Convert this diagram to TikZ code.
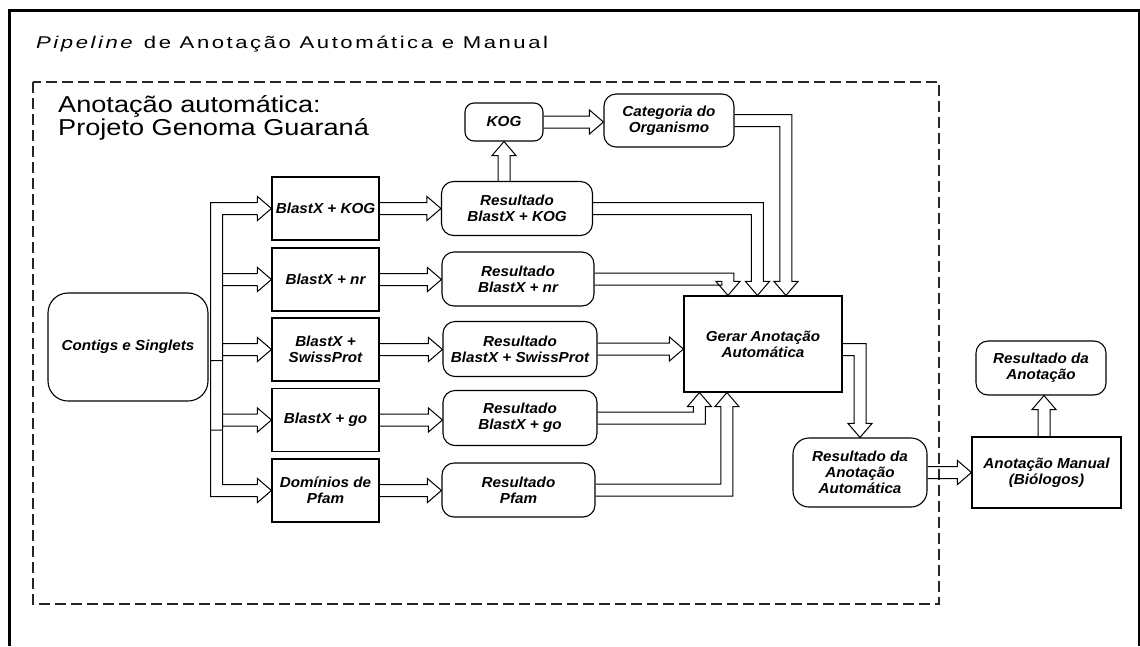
\documentclass[tikz,border=0pt]{standalone}
\usepackage{fontspec}
\setmainfont{Liberation Sans}
\newfontfamily\nodefont[FakeStretch=1.05]{Liberation Sans}
\newfontfamily\titlefont[FakeStretch=1.3,LetterSpace=15]{Liberation Sans}
\newfontfamily\subfont[FakeStretch=1.18]{Liberation Sans}
\usetikzlibrary{calc}

\def\sw{6pt}
\def\hw{12pt}
\def\hl{14pt}

% horizontal hollow arrow: from #1 to x of #2 (at y of #1)
\newcommand\HArrow[2]{%
  \draw[hollow] let \p1=(#1), \p2=(#2) in
   (\x1,{\y1+\sw}) -- ({\x2-\hl},{\y1+\sw}) -- ({\x2-\hl},{\y1+\hw}) -- (\x2,\y1)
   -- ({\x2-\hl},{\y1-\hw}) -- ({\x2-\hl},{\y1-\sw}) -- (\x1,{\y1-\sw});}
% vertical hollow arrow upwards: from #1 to y of #2 (at x of #1)
\newcommand\VArrowUp[2]{%
  \draw[hollow] let \p1=(#1), \p2=(#2) in
   ({\x1+\sw},\y1) -- ({\x1+\sw},{\y2-\hl}) -- ({\x1+\hw},{\y2-\hl}) -- (\x1,\y2)
   -- ({\x1-\hw},{\y2-\hl}) -- ({\x1-\sw},{\y2-\hl}) -- ({\x1-\sw},\y1);}
% right then down
\newcommand\BentRD[2]{%
  \draw[hollow] let \p1=(#1), \p2=(#2) in
   (\x1,{\y1+\sw}) -- ({\x2+\sw},{\y1+\sw}) -- ({\x2+\sw},{\y2+\hl}) -- ({\x2+\hw},{\y2+\hl})
   -- (\x2,\y2) -- ({\x2-\hw},{\y2+\hl}) -- ({\x2-\sw},{\y2+\hl}) -- ({\x2-\sw},{\y1-\sw}) -- (\x1,{\y1-\sw});}
% right then up
\newcommand\BentRU[2]{%
  \draw[hollow] let \p1=(#1), \p2=(#2) in
   (\x1,{\y1+\sw}) -- ({\x2-\sw},{\y1+\sw}) -- ({\x2-\sw},{\y2-\hl}) -- ({\x2-\hw},{\y2-\hl})
   -- (\x2,\y2) -- ({\x2+\hw},{\y2-\hl}) -- ({\x2+\sw},{\y2-\hl}) -- ({\x2+\sw},{\y1-\sw}) -- (\x1,{\y1-\sw});}

\tikzset{
  every node/.style={font=\nodefont\fontsize{14.5}{16}\selectfont\bfseries\itshape,
    align=center, inner sep=0pt},
  hollow/.style={draw=black, line width=1pt, line join=miter},
  sqbox/.style={draw=black, line width=1.1pt, rectangle},
  rbox/.style={draw=black, line width=1.1pt, rectangle, rounded corners=12pt},
  framebox/.style={draw=black!85, dash pattern=on 11pt off 5pt, line width=1.2pt},
}

\begin{document}
\begin{tikzpicture}[x=1pt, y=-1pt]
\useasboundingbox (0,0) rectangle (1140,646);
\fill[white] (0,0) rectangle (1140,646);

% outer frame
\draw[line width=3pt] (9,646) -- (9,10) -- (1139,10);
\draw[line width=2pt] (1139,9) -- (1139,646);

% titles
\node[anchor=base west, font=\titlefont\fontsize{17}{20}\selectfont] (title) at (36,48)
  {\textit{Pipeline} de Anotação Automática e Manual};
\draw[framebox] (33,82) rectangle (939,604);
\node[anchor=base west, font=\subfont\fontsize{23}{25}\selectfont] (sub1) at (58,112) {Anotação automática:};
\node[anchor=base west, font=\subfont\fontsize{23}{25}\selectfont] (sub2) at (58,135) {Projeto Genoma Guaraná};

% nodes
\node[rbox, rounded corners=20pt, minimum width=160pt, minimum height=108pt] (contigs) at (128,347) {Contigs e Singlets};

\node[sqbox, minimum width=107pt, minimum height=63pt] (b1) at (325.5,208.5) {BlastX + KOG};
\node[sqbox, minimum width=107pt, minimum height=63pt] (b2) at (325.5,279.5) {BlastX + nr};
\node[sqbox, minimum width=107pt, minimum height=63pt] (b3) at (325.5,349.5) {BlastX +\\SwissProt};
\node[sqbox, minimum width=107pt, minimum height=63pt] (b4) at (325.5,420) {BlastX + go};
\node[sqbox, minimum width=107pt, minimum height=63pt] (b5) at (325.5,490.5) {Domínios de\\Pfam};

\node[rbox, minimum width=151pt, minimum height=54pt] (r1) at (517,208.5) {Resultado\\BlastX + KOG};
\node[rbox, minimum width=152pt, minimum height=54pt] (r2) at (518,279) {Resultado\\BlastX + nr};
\node[rbox, minimum width=154pt, minimum height=55pt] (r3) at (520,349) {Resultado\\BlastX + SwissProt};
\node[rbox, minimum width=154pt, minimum height=55pt] (r4) at (520,418) {Resultado\\BlastX + go};
\node[rbox, minimum width=153pt, minimum height=54pt] (r5) at (518.5,490) {Resultado\\Pfam};

\node[rbox, rounded corners=9pt, minimum width=78pt, minimum height=38pt] (kog) at (504,122) {KOG};
\node[rbox, minimum width=130pt, minimum height=53pt] (cat) at (669,120.5) {Categoria do\\Organismo};

\node[sqbox, minimum width=158pt, minimum height=96pt] (gerar) at (763,344) {Gerar Anotação\\Automática};
\node[rbox, rounded corners=16pt, minimum width=134pt, minimum height=69pt] (rauto) at (860,472.5) {Resultado da\\Anotação\\Automática};
\node[sqbox, minimum width=149pt, minimum height=71pt] (manual) at (1046.5,472.5) {Anotação Manual\\(Biólogos)};
\node[rbox, minimum width=130pt, minimum height=54pt] (rfinal) at (1041,368) {Resultado da\\Anotação};

% fan-out tree from contigs
\draw[hollow] let \p0=(contigs.east), \p1=(b1.west), \p2=(b2.west), \p3=(b3.west),
  \p4=(b4.west), \p5=(b5.west), \n1={\x0+2pt}, \n2={\x0+14pt}, \n3={\x1-\hl} in
  (\n3,{\y1+\sw}) -- (\n1,{\y1+\sw}) -- (\n1,{\y5-\sw}) -- (\n3,{\y5-\sw})
  (\n3,{\y1-\sw}) -- (\n2,{\y1-\sw}) -- (\n2,{\y5+\sw}) -- (\n3,{\y5+\sw})
  (\n2,{\y2+\sw}) -- (\n3,{\y2+\sw}) (\n2,{\y2-\sw}) -- (\n3,{\y2-\sw})
  (\n2,{\y3+\sw}) -- (\n3,{\y3+\sw}) (\n2,{\y3-\sw}) -- (\n3,{\y3-\sw})
  (\n2,{\y4+\sw}) -- (\n3,{\y4+\sw}) (\n2,{\y4-\sw}) -- (\n3,{\y4-\sw})
  (\n1,{\y3-11pt}) -- (\n2,{\y3-11pt}) (\n1,{\y4-10pt}) -- (\n2,{\y4-10pt})
  (\n3,{\y1+\sw}) -- (\n3,{\y1+\hw}) -- (\x1,\y1) -- (\n3,{\y1-\hw}) -- (\n3,{\y1-\sw})
  (\n3,{\y2+\sw}) -- (\n3,{\y2+\hw}) -- (\x1,\y2) -- (\n3,{\y2-\hw}) -- (\n3,{\y2-\sw})
  (\n3,{\y3+\sw}) -- (\n3,{\y3+\hw}) -- (\x1,\y3) -- (\n3,{\y3-\hw}) -- (\n3,{\y3-\sw})
  (\n3,{\y4+\sw}) -- (\n3,{\y4+\hw}) -- (\x1,\y4) -- (\n3,{\y4-\hw}) -- (\n3,{\y4-\sw})
  (\n3,{\y5+\sw}) -- (\n3,{\y5+\hw}) -- (\x1,\y5) -- (\n3,{\y5-\hw}) -- (\n3,{\y5-\sw});

% blast -> resultado
\HArrow{b1.east}{r1.west}
\HArrow{b2.east}{r2.west}
\HArrow{b3.east}{r3.west}
\HArrow{b4.east}{r4.west}
\HArrow{b5.east}{r5.west}

% kog branch
\VArrowUp{kog.south |- r1.north}{kog.south}
\HArrow{kog.east}{cat.west}

% into gerar
\HArrow{r3.east}{gerar.west}
\BentRD{r2.east}{$(gerar.north west)+(44.5,0)$}
\BentRD{r1.east}{$(gerar.north west)+(74,0)$}
\BentRD{cat.east}{$(gerar.north west)+(102.5,0)$}
\BentRU{r4.east}{$(gerar.south west)+(16,0)$}
\BentRU{r5.east}{$(gerar.south west)+(43.5,0)$}

% gerar -> resultado automatica -> manual -> final
\BentRD{$(gerar.east)+(0,5.5)$}{rauto.north}
\HArrow{rauto.east}{manual.west}
\VArrowUp{$(manual.north)+(-2.5,0)$}{rfinal.south}
\end{tikzpicture}
\end{document}
